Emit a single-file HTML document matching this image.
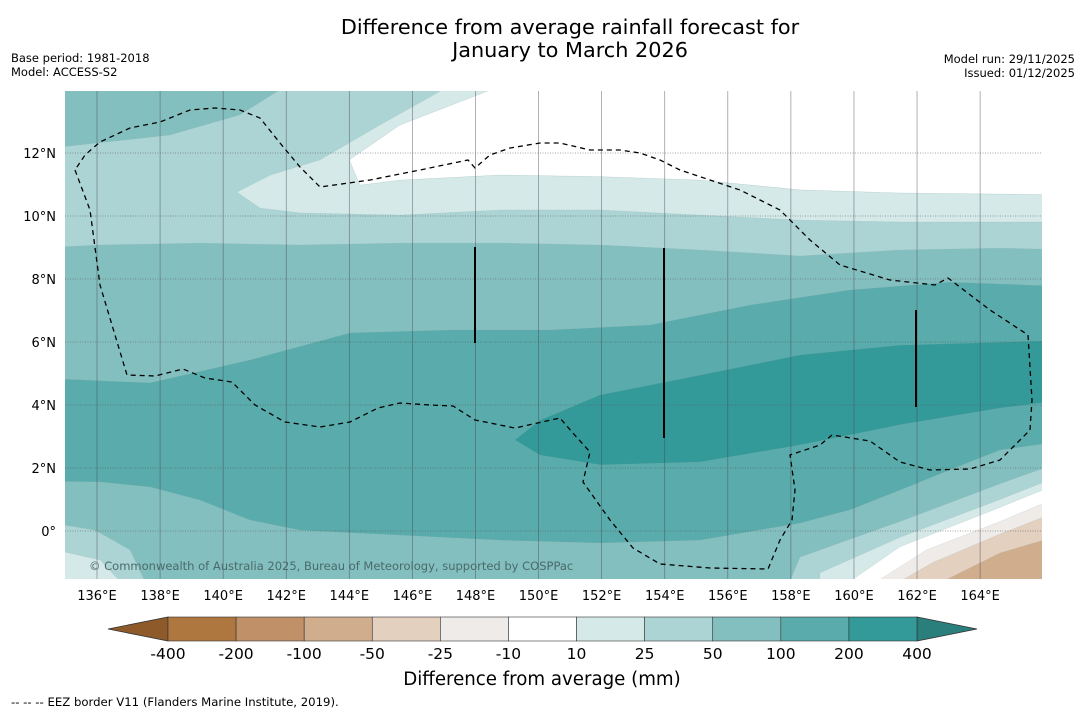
<!DOCTYPE html>
<html><head><meta charset="utf-8">
<style>
body{margin:0;background:#fff;font-family:"Liberation Sans","DejaVu Sans",sans-serif;}
svg{display:block}
</style></head>
<body>
<svg id="chart" width="1085" height="713" viewBox="0 0 1085 713" font-family="DejaVu Sans, Liberation Sans, sans-serif">
<rect width="1085" height="713" fill="#fff"/>
<text x="570" y="34" font-size="20.8" text-anchor="middle">Difference from average rainfall forecast for</text>
<text x="570" y="57" font-size="20.8" text-anchor="middle">January to March 2026</text>
<text x="11" y="62" font-size="11.5">Base period: 1981-2018</text>
<text x="11" y="76" font-size="11.5">Model: ACCESS-S2</text>
<text x="1075" y="63" font-size="11.5" text-anchor="end">Model run: 29/11/2025</text>
<text x="1075" y="77" font-size="11.5" text-anchor="end">Issued: 01/12/2025</text>
<defs><clipPath id="mapclip"><rect x="65" y="91" width="977" height="488"/></clipPath></defs>
<g id="map" clip-path="url(#mapclip)"></g>
<g id="overlay"></g>
<g id="axes"></g>
<g id="cbar"></g>
<text x="542" y="685" font-size="18.2" text-anchor="middle">Difference from average (mm)</text>
<text x="11" y="706" font-size="11.7">--  --  -- EEZ border V11 (Flanders Marine Institute, 2019).</text>
</svg>
<script>
const lonTicks=[136,138,140,142,144,146,148,150,152,154,156,158,160,162,164];
const latTicks=[0,2,4,6,8,10,12];
const cbarLabels=["-400","-200","-100","-50","-25","-10","10","25","50","100","200","400"];
const cbarColors=["#ae773f","#c09068","#d0ad8c","#e3d0be","#efebe8","#ffffff","#d5e9e8","#acd4d4","#84bfbf","#5aabab","#339a99"];
const C={c25:"#acd4d4",c10:"#d5e9e8",w:"#ffffff",c50:"#84bfbf",c100:"#5aabab",c200:"#339a99",n25:"#efebe8",n50:"#e3d0be",n100:"#d0ad8c"};
// contour polygons, [lon,lat]
const polyTopLeft=[[134,14.5],[141.74,14.5],[141.74,13.97],[140.53,13.21],[138.31,12.57],[134,12.1]];
const polyC10=[[147.0,14.5],[148.4,14.5],[148.4,13.97],[145.6,12.89],[144.0,11.78],[144.34,10.98],[145.61,11.14],[148.78,11.3],[151.95,11.25],[155.12,11.14],[158.29,10.83],[161.46,10.73],[167,10.67],[167,9.81],[161.46,9.81],[158.29,9.87],[155.12,10.03],[151.95,10.19],[148.78,10.19],[145.61,10.03],[142.44,10.1],[141.17,10.25],[140.44,10.76],[141.5,11.3],[143.07,11.78],[144.97,12.89],[146.9,13.97]];
const polyWhite=[[148.4,14.5],[167,14.5],[167,10.67],[161.46,10.73],[158.29,10.83],[155.12,11.14],[151.95,11.25],[148.78,11.3],[145.61,11.14],[144.34,10.98],[144.0,11.78],[145.6,12.89],[148.4,13.97]];
const polyC50=[[134,8.98],[136.1,9.08],[139.27,9.14],[142.44,9.08],[145.61,9.14],[148.78,9.14],[151.95,9.08],[155.12,8.92],[158.29,8.73],[161.46,8.92],[164.63,8.98],[167,8.92],[167,-2],[134,-2]];
const polyC100=[[134,4.86],[137.68,4.7],[140.85,5.43],[144.02,6.29],[147.19,6.38],[150.36,6.38],[153.53,6.54],[156.7,7.17],[159.87,7.65],[163.04,7.9],[167,7.75],[167,2.9],[164.63,2.57],[163.04,1.94],[161.46,1.3],[159.87,0.67],[158.29,0.25],[155.12,-0.29],[151.95,-0.38],[148.78,-0.29],[145.61,-0.13],[142.44,0.03],[140.85,0.35],[139.27,0.98],[137.68,1.4],[136.1,1.56],[134,1.59]];
const polyC200=[[149.25,2.89],[150.05,3.52],[151.95,4.32],[155.12,4.95],[158.29,5.59],[161.46,5.9],[167,6.06],[167,4.2],[164.63,3.9],[161.46,3.37],[158.29,2.73],[155.12,2.19],[151.95,2.1],[150.05,2.41]];
const polyBL25=[[134,0.35],[135.94,0.03],[137.05,-0.6],[137.52,-1.6],[134,-1.6]];
const polyBL10=[[134,-0.44],[136.1,-0.92],[136.73,-1.6],[134,-1.6]];
const polyBR25=[[167,2.35],[164.63,1.5],[161.46,0.3],[158.29,-0.83],[157.97,-1.6],[167,-1.6]];
const polyBR10=[[167,1.94],[164.63,1.0],[161.46,-0.2],[158.92,-1.33],[158.92,-1.6],[167,-1.6]];
const polyBRw=[[167,1.71],[164.63,0.75],[161.46,-0.5],[159.87,-1.6],[167,-1.6]];
const polyBRn25=[[167,1.3],[164.63,0.3],[162.3,-0.6],[160.73,-1.6],[167,-1.6]];
const polyBRn50=[[167,0.83],[164.63,-0.1],[162.5,-1.0],[161.46,-1.6],[167,-1.6]];
const polyBRn100=[[167,0.0],[164.63,-0.7],[162.82,-1.6],[167,-1.6]];

function X(lon){return 97+(lon-136)*31.54;}
function Y(lat){return 531-lat*31.5;}
const NS="http://www.w3.org/2000/svg";
function mk(tag,attrs,parent){const e=document.createElementNS(NS,tag);for(const k in attrs)e.setAttribute(k,attrs[k]);parent.appendChild(e);return e;}
const map=document.getElementById('map');
mk('rect',{x:65,y:91,width:977,height:488,fill:C.c25},map);
const layers=[[polyTopLeft,C.c50,'band-top-left-50-100'],[polyC10,C.c10,'band-10-25'],[polyWhite,C.w,'band-neutral'],[polyC50,C.c50,'band-50-100'],[polyC100,C.c100,'band-100-200'],[polyC200,C.c200,'band-200-400'],[polyBL25,C.c25,'band-bl-25'],[polyBL10,C.c10,'band-bl-10'],[polyBR25,C.c25,'band-br-25'],[polyBR10,C.c10,'band-br-10'],[polyBRw,C.w,'band-br-neutral'],[polyBRn25,C.n25,'band-br-neg25'],[polyBRn50,C.n50,'band-br-neg50'],[polyBRn100,C.n100,'band-br-neg100']];
layers.forEach(([p,c,n])=>{
  const el=mk('polygon',{points:p.map(q=>X(q[0]).toFixed(1)+','+Y(q[1]).toFixed(1)).join(' '),fill:c,stroke:"#8aa",'stroke-width':0.3,'stroke-opacity':0.5},map);
  
  
});
const ov=document.getElementById('overlay');
lonTicks.forEach(l=>{const e=mk('line',{x1:X(l),x2:X(l),y1:91,y2:579,stroke:"#445",'stroke-width':0.7,'stroke-opacity':0.6},ov);
});
latTicks.forEach(l=>{const e=mk('line',{x1:65,x2:1042,y1:Y(l),y2:Y(l),stroke:"#555",'stroke-width':0.8,'stroke-dasharray':'1,1.5','stroke-opacity':0.7},ov);
});
const eez="M75,170 L90,210 L100,285 L127,375 L155,376 L183,369 L205,378 L232,382 L255,405 L285,422 L320,427 L350,422 L378,408 L400,403 L430,405 L453,406 L475,420 L515,428 L560,418 L572,432 L590,452 L583,482 L610,520 L633,548 L660,564 L710,568 L768,569 L780,540 L792,520 L795,490 L790,455 L820,445 L832,435 L870,441 L900,462 L930,470 L970,469 L1000,460 L1030,430 L1032,400 L1028,335 L990,310 L948,278 L935,285 L890,280 L840,265 L810,240 L780,210 L770,205 L740,190 L710,180 L680,170 L660,160 L640,153 L620,150 L590,150 L560,143 L540,143 L510,148 L490,155 L475,168 L468,160 L420,170 L370,180 L320,187 L300,167 L280,143 L260,118 L240,110 L215,108 L190,110 L160,122 L130,128 L100,142 L85,155 Z";
const ez=mk('path',{d:eez,fill:'none',stroke:'#000','stroke-width':1.3,'stroke-dasharray':'5,4'},ov);

[[475,247,343],[664,248,438],[916,310,407]].forEach(v=>{const e=mk('line',{x1:v[0],x2:v[0],y1:v[1],y2:v[2],stroke:'#000','stroke-width':2},ov);
});
const cp=mk('text',{x:89,y:570,'font-size':11.5,fill:'#4a6a6a'},ov);cp.textContent="© Commonwealth of Australia 2025, Bureau of Meteorology, supported by COSPPac";

const ax=document.getElementById('axes');
lonTicks.forEach(l=>{const t=mk('text',{x:X(l),y:600,'font-size':13,'text-anchor':'middle'},ax);t.textContent=l+"°E";
});
latTicks.forEach(l=>{const t=mk('text',{x:56,y:Y(l)+5,'font-size':13,'text-anchor':'end'},ax);t.textContent=l===0?"0°":l+"°N";
});
const cb=document.getElementById('cbar');
const x0=168,x1=917,y0=617,h=24,n=cbarColors.length,w=(x1-x0)/n;
let tl=mk('polygon',{points:`${x0},${y0} ${x0},${y0+h} 108,${y0+h/2}`,fill:'#8e5a2a',stroke:'#333','stroke-width':0.8},cb);

let tr=mk('polygon',{points:`${x1},${y0} ${x1},${y0+h} 977,${y0+h/2}`,fill:'#2a7e7c',stroke:'#333','stroke-width':0.8},cb);

cbarColors.forEach((c,i)=>{const r=mk('rect',{x:x0+i*w,y:y0,width:w,height:h,fill:c,stroke:'#333','stroke-width':0.6},cb);
});
cbarLabels.forEach((s,i)=>{const t=mk('text',{x:x0+i*w,y:659,'font-size':15.5,'text-anchor':'middle'},cb);t.textContent=s;
});
</script>
</body></html>
